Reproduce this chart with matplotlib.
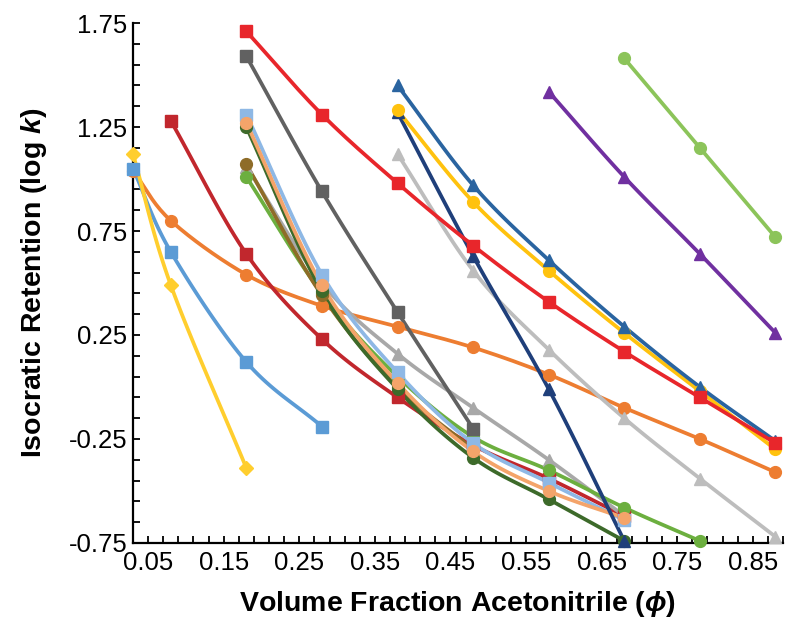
import numpy as np
import matplotlib
matplotlib.use("Agg")
import matplotlib.pyplot as plt

plt.rcParams['font.family'] = ['Liberation Sans', 'DejaVu Sans']
plt.rcParams['mathtext.fontset'] = 'custom'
plt.rcParams['mathtext.it'] = 'Liberation Sans:italic:bold'
plt.rcParams['mathtext.rm'] = 'Liberation Sans:bold'

# volume fraction grid used by every series
phi = [0.03, 0.08, 0.18, 0.28, 0.38, 0.48, 0.58, 0.68, 0.78, 0.88]

# log k values, one list per compound
yellow_dia   = [1.12, 0.49, -0.39]
blue_sq      = [1.05, 0.65, 0.12, -0.19]
orange_ci    = [1.04, 0.80, 0.54, 0.39, 0.29, 0.19, 0.06, -0.10, -0.25, -0.41]
darkred_sq   = [1.28, 0.64, 0.23, -0.05, -0.28, -0.44, -0.62]
gray_sq      = [1.59, 0.94, 0.36, -0.20]
red_sq       = [1.71, 1.31, 0.98, 0.68, 0.41, 0.17, -0.05, -0.27]
blue_tri     = [1.45, 0.97, 0.61, 0.29, 0.00, -0.26]
gold_ci      = [1.33, 0.89, 0.56, 0.26, -0.02, -0.30]
navy_tri     = [1.32, 0.63, -0.01, -0.74]
ltgray_tri   = [1.12, 0.56, 0.18, -0.15, -0.44, -0.72]
purple_tri   = [1.42, 1.01, 0.64, 0.26]
ltgreen_ci   = [1.58, 1.15, 0.72]
ltblue_sq    = [1.31, 0.54, 0.07, -0.27, -0.46, -0.64]
peach_ci     = [1.27, 0.49, 0.02, -0.31, -0.50, -0.63]
dkgreen_ci   = [1.25, 0.46, -0.01, -0.34, -0.54, -0.74]
brown_ci     = [1.07, 0.44, 0.00, -0.30]
green_ci     = [1.01, 0.45, 0.05, -0.24, -0.40, -0.58, -0.74]
midgray_tri  = [1.06, 0.50, 0.16, -0.10, -0.35, -0.62]

# (values, first phi index, colour, marker)
series = [
    (orange_ci, 0, '#ED7D31', 'o'),
    (blue_sq, 0, '#5B9BD5', 's'),
    (yellow_dia, 0, '#FFCE2E', 'D'),
    (darkred_sq, 1, '#C1272D', 's'),
    (midgray_tri, 2, '#A8A8A8', '^'),
    (green_ci, 2, '#6CAF3F', 'o'),
    (brown_ci, 2, '#8E6C28', 'o'),
    (dkgreen_ci, 2, '#3D6A2A', 'o'),
    (ltblue_sq, 2, '#8EB8E5', 's'),
    (peach_ci, 2, '#F4A46A', 'o'),
    (gray_sq, 2, '#616161', 's'),
    (ltgray_tri, 4, '#BDBDBD', '^'),
    (navy_tri, 4, '#1F3F7A', '^'),
    (gold_ci, 4, '#FFC20E', 'o'),
    (blue_tri, 4, '#2A64A0', '^'),
    (red_sq, 2, '#E8262B', 's'),
    (purple_tri, 6, '#7030A0', '^'),
    (ltgreen_ci, 7, '#8CC45A', 'o'),
]


def smooth(x, y, n=20):
    # Catmull-Rom curve through the points (like Excel smoothed lines)
    x = np.asarray(x, float)
    y = np.asarray(y, float)
    if len(x) < 3:
        return x, y
    px = np.concatenate([[2 * x[0] - x[1]], x, [2 * x[-1] - x[-2]]])
    py = np.concatenate([[2 * y[0] - y[1]], y, [2 * y[-1] - y[-2]]])
    xs, ys = [], []
    t = np.linspace(0, 1, n)
    for i in range(1, len(px) - 2):
        p0, p1, p2, p3 = px[i - 1], px[i], px[i + 1], px[i + 2]
        q0, q1, q2, q3 = py[i - 1], py[i], py[i + 1], py[i + 2]
        for arr, a0, a1, a2, a3 in ((xs, p0, p1, p2, p3), (ys, q0, q1, q2, q3)):
            arr.extend(0.5 * ((2 * a1) + (-a0 + a2) * t
                              + (2 * a0 - 5 * a1 + 4 * a2 - a3) * t ** 2
                              + (-a0 + 3 * a1 - 3 * a2 + a3) * t ** 3))
    return np.array(xs), np.array(ys)


fig = plt.figure(figsize=(8, 6.31), dpi=100)
ax = fig.add_axes([0.16625, 0.1395, 0.8125, 0.824])

for vals, start, col, mk in series:
    xv = phi[start:start + len(vals)]
    sx, sy = smooth(xv, vals)
    ax.plot(sx, sy, color=col, lw=2.7, solid_capstyle='round', zorder=2)
    ms = 9 if mk == 's' else (7 if mk == 'D' else 8.5)
    ax.plot(xv, vals, ls='none', marker=mk, ms=ms, color=col, mec=col,
            zorder=3, clip_on=False)

ax.set_xlim(0.03, 0.89)
ax.set_ylim(-0.75, 1.75)

xt = np.round(np.arange(0.03, 0.8901, 0.02), 2)
ax.set_xticks(xt)
ax.set_xticklabels([f'{v:.2f}' if round((v - 0.05) * 100) % 10 == 0 else '' for v in xt])
yt = np.round(np.arange(-0.75, 1.7501, 0.1), 2)
ax.set_yticks(yt)
ax.set_yticklabels([f'{v:.2f}' if round((v + 0.75) * 100) % 50 == 0 else '' for v in yt])

ax.tick_params(direction='in', length=5, width=1.3, labelsize=18.5)
ax.tick_params(axis='x', pad=6)
ax.tick_params(axis='y', pad=4)
for s in ('top', 'right'):
    ax.spines[s].set_visible(False)
for s in ('left', 'bottom'):
    ax.spines[s].set_linewidth(1.6)

ax.set_xlabel(r'Volume Fraction Acetonitrile ($\phi$)', fontsize=20.5, fontweight='bold', labelpad=10)
ax.set_ylabel(r'Isocratic Retention (log $k$)', fontsize=20.5, fontweight='bold', labelpad=14)

fig.savefig('out.png', dpi=100)
